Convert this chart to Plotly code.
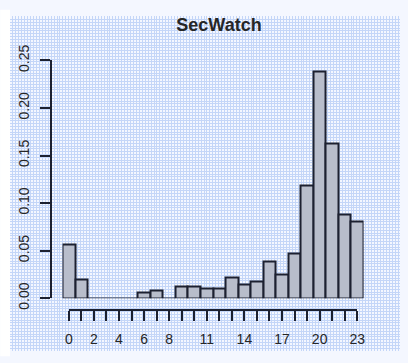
import plotly.graph_objects as go

hours = list(range(24))
density = [0.056, 0.0196, 0.0, 0.0, 0.0, 0.0, 0.0059, 0.008, 0.0, 0.0124,
           0.0124, 0.0098, 0.0098, 0.022, 0.0147, 0.0173, 0.039, 0.0245,
           0.0467, 0.119, 0.238, 0.163, 0.088, 0.0807]
x_tick_vals = list(range(24))
x_tick_text = [str(h) if h in (0, 2, 4, 6, 8, 11, 14, 17, 20, 23) else "" for h in hours]
y_tick_vals = [0.0, 0.05, 0.10, 0.15, 0.20, 0.25]
y_tick_text = ["0.00", "0.05", "0.10", "0.15", "0.20", "0.25"]
title_text = "SecWatch"

W, H = 408, 363
ML, MR, MT, MB = 10, 0, 3, 2
PW, PH = W - ML - MR, H - MT - MB

def fx(px):
    return (px - ML) / PW

def fy(py):
    return (H - MB - py) / PH

text_col = "#262626"
font_family = "Liberation Sans, Arial, sans-serif"

fig = go.Figure()

# background graph-paper grid subplot (x/y)
fig.add_trace(go.Scatter(x=[0], y=[0], mode="markers", marker=dict(size=0, opacity=0),
                         hoverinfo="skip", showlegend=False, xaxis="x", yaxis="y"))

# histogram bars
fig.add_trace(go.Bar(x=hours, y=density, width=1.0,
                     marker=dict(color="#b8bdcb", line=dict(color="#1c2030", width=2)),
                     showlegend=False, xaxis="x2", yaxis="y2"))

# helper trace for the detached x axis
fig.add_trace(go.Scatter(x=[0], y=[0], mode="markers", marker=dict(size=0, opacity=0),
                         hoverinfo="skip", showlegend=False, xaxis="x3", yaxis="y2"))

fig.update_layout(
    width=W, height=H,
    margin=dict(l=ML, r=MR, t=MT, b=MB),
    paper_bgcolor="#f4f7ff",
    plot_bgcolor="rgba(0,0,0,0)",
    font=dict(family=font_family, color=text_col, size=14),
    title=dict(text="<b>" + title_text + "</b>", x=219 / W, xref="container",
               y=1 - 25 / H, yref="container", xanchor="center", yanchor="middle",
               font=dict(size=18, color=text_col, family=font_family)),
    xaxis=dict(domain=[0, 1], range=[0, PW / 3.0], dtick=1, tick0=0,
               showgrid=True, gridcolor="#c4d6f8", gridwidth=1,
               showticklabels=False, zeroline=False, showline=False, ticks="",
               fixedrange=True),
    yaxis=dict(domain=[0, 1], range=[0, PH / 3.0], dtick=1, tick0=0,
               showgrid=True, gridcolor="#c4d6f8", gridwidth=1,
               showticklabels=False, zeroline=False, showline=False, ticks="",
               fixedrange=True),
    xaxis2=dict(domain=[fx(63.6), fx(370.8)], range=[-0.5, 23.5], anchor="y2",
                visible=False),
    yaxis2=dict(domain=[fy(304.5), fy(50.5)], range=[0, 0.25], anchor="free",
                position=fx(52), showgrid=False, zeroline=False,
                showline=True, linecolor="#1c2030", linewidth=2,
                ticks="outside", ticklen=10, tickwidth=2, tickcolor="#1c2030",
                tickvals=y_tick_vals, ticktext=y_tick_text, tickangle=-90,
                ticklabelstandoff=6, tickfont=dict(size=14, color=text_col)),
    xaxis3=dict(domain=[fx(70), fx(364.4)], range=[0, 23], anchor="free",
                position=fy(317.5), showgrid=False, zeroline=False,
                showline=True, linecolor="#1c2030", linewidth=2,
                ticks="outside", ticklen=10, tickwidth=2, tickcolor="#1c2030",
                tickvals=x_tick_vals, ticktext=x_tick_text, tickangle=0,
                ticklabelstandoff=6, tickfont=dict(size=14, color=text_col)),
    bargap=0,
    shapes=[dict(type="rect", xref="paper", yref="paper", layer="below",
                 x0=-ML / PW, x1=0, y0=-MB / PH - 0.01, y1=1 + MT / PH + 0.01,
                 fillcolor="white", line=dict(width=0))],
)

fig.write_html("out.html")
